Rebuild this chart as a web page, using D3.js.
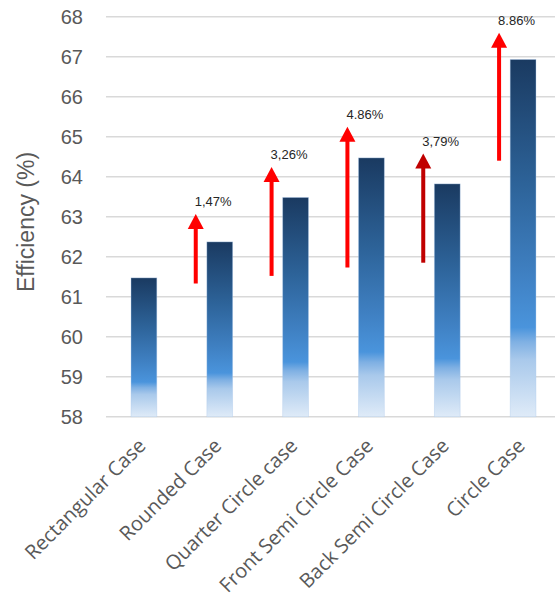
<!DOCTYPE html>
<html>
<head>
<meta charset="utf-8">
<script src="https://cdn.jsdelivr.net/npm/d3@7"></script>
<style>
  html, body { margin: 0; padding: 0; background: #fff; }
  svg { display: block; }
</style>
</head>
<body>
<div id="chart"></div>
<script>
// ---- data ----
const categories = ["Rectangular Case", "Rounded Case", "Quarter Circle case",
  "Front Semi Circle Case", "Back Semi Circle Case", "Circle Case"];
const efficiency = [61.47, 62.37, 63.48, 64.47, 63.82, 66.93];
const yTicks = [58, 59, 60, 61, 62, 63, 64, 65, 66, 67, 68];
const arrowCategories = ["Rounded Case", "Quarter Circle case", "Front Semi Circle Case",
  "Back Semi Circle Case", "Circle Case"];
const arrowFrom = [61.33, 61.52, 61.73, 61.85, 64.40];
const arrowTo = [63.07, 64.24, 65.25, 64.58, 67.60];
const arrowLabels = ["1,47%", "3,26%", "4.86%", "3,79%", "8.86%"];
const arrowColors = ["#ff0000", "#ff0000", "#ff0000", "#c00000", "#ff0000"];
const yTitle = "Efficiency (%)";

// ---- layout ----
const W = 555, H = 604;
const svg = d3.select("#chart").append("svg").attr("width", W).attr("height", H);

const x = d3.scaleBand().domain(categories).range([106, 561]).paddingInner(0.66).paddingOuter(0.33);
const y = d3.scaleLinear().domain([58, 68]).range([416.7, 16.7]);

// gradient
const defs = svg.append("defs");
const grad = defs.append("linearGradient").attr("id", "barGrad")
  .attr("x1", 0).attr("y1", 0).attr("x2", 0).attr("y2", 1);
[[0, "#1a3a61"], [0.35, "#2d6399"], [0.6, "#3f80c2"], [0.75, "#4a94dc"],
 [0.79, "#7fb0e3"], [0.84, "#a9c9eb"], [1, "#dfebf8"]].forEach(([o, c]) =>
  grad.append("stop").attr("offset", o).attr("stop-color", c));

// gridlines
svg.append("g").selectAll("line").data(yTicks).join("line")
  .attr("x1", 106).attr("x2", 561)
  .attr("y1", d => y(d)).attr("y2", d => y(d))
  .attr("stroke", "#d9d9d9").attr("stroke-width", 1.6);

// y axis labels
const yAxis = d3.axisLeft(y).tickValues(yTicks).tickSize(0).tickPadding(0);
const yg = svg.append("g").attr("transform", "translate(83,0)").call(yAxis);
yg.select(".domain").remove();
yg.selectAll("text").attr("font-family", "Liberation Sans, Arial, sans-serif")
  .attr("font-size", 20).attr("fill", "#595959").attr("dy", "0.35em");

// y title
svg.append("text")
  .attr("transform", "translate(34,222) rotate(-90)")
  .attr("text-anchor", "middle")
  .attr("font-family", "Liberation Sans, Arial, sans-serif")
  .attr("font-size", 23).attr("fill", "#595959")
  .text(yTitle);

// bars
svg.append("g").selectAll("rect").data(categories).join("rect")
  .attr("x", d => x(d))
  .attr("width", x.bandwidth())
  .attr("y", (d, i) => y(efficiency[i]))
  .attr("height", (d, i) => y(58) - y(efficiency[i]))
  .attr("fill", "url(#barGrad)")
  .attr("stroke", "rgba(170,200,235,0.45)").attr("stroke-width", 0.8);

// x labels
svg.append("g").selectAll("text").data(categories).join("text")
  .attr("transform", d => `translate(${x(d) + x.bandwidth() / 2 + 3},447) rotate(-45)`)
  .attr("text-anchor", "end")
  .attr("font-family", "Open Sans, sans-serif")
  .attr("font-size", 20).attr("fill", "#595959")
  .text(d => d);

// arrows
const arrowOffset = 24;
const ag = svg.append("g");
arrowCategories.forEach((c, i) => {
  const ax = x(c) + x.bandwidth() / 2 - arrowOffset;
  const yTip = y(arrowTo[i]);
  const yBase = y(arrowFrom[i]);
  const headH = 15, headW = 16, shaftW = 4;
  ag.append("rect")
    .attr("x", ax - shaftW / 2).attr("width", shaftW)
    .attr("y", yTip + headH - 1).attr("height", yBase - yTip - headH + 1)
    .attr("fill", arrowColors[i]);
  ag.append("path")
    .attr("d", `M${ax},${yTip} L${ax + headW / 2},${yTip + headH} L${ax - headW / 2},${yTip + headH} Z`)
    .attr("fill", arrowColors[i]);
  ag.append("text")
    .attr("x", ax - 1).attr("y", yTip - 8)
    .attr("font-family", "Liberation Sans, Arial, sans-serif")
    .attr("font-size", 13).attr("fill", "#262626")
    .text(arrowLabels[i]);
});
</script>
</body>
</html>
